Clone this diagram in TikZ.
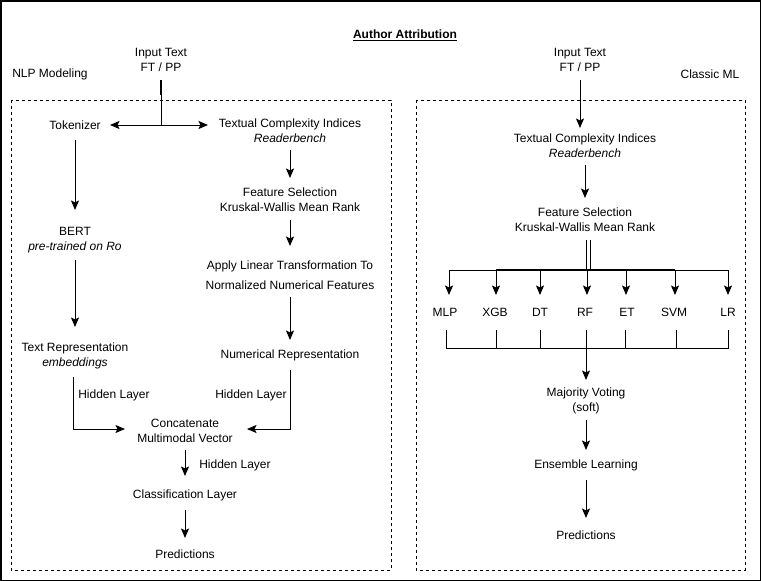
\documentclass[tikz,border=0pt]{standalone}
\usepackage{fontspec}
\setmainfont{Liberation Sans}
\usetikzlibrary{arrows.meta}
\begin{document}
\begin{tikzpicture}[x=1pt,y=-1pt,
  txt/.style={inner sep=0pt, align=center, font=\fontsize{12}{15}\selectfont},
  arr/.style={line width=0.9pt, -{Stealth[length=9.5pt,width=8pt,inset=2pt]}},
  wire/.style={line width=0.9pt},
  heavy/.style={line width=1.8pt},
  panel/.style={line width=0.8pt, dash pattern=on 3pt off 3pt}]
\useasboundingbox (0,0) rectangle (761,581);
\draw[line width=1.5pt] (0.75,0.75) rectangle (760.25,580.25);

% the two dashed panels
\draw[panel] (11,100) rectangle (391,570);
\draw[panel] (416,100) rectangle (745,570);

% title and panel captions
\node[txt, font=\bfseries\fontsize{12}{15}\selectfont] (title) at (405,35) {\underline{Author Attribution}};
\node[txt] (nlp) at (50,74) {NLP Modeling};
\node[txt] (cml) at (710,74) {Classic ML};

% ---------- NLP modeling ----------
\node[txt] (inL) at (161,59.5) {Input Text\\FT / PP};
\node[txt] (tok) at (75,125) {Tokenizer};
\node[txt] (tciL) at (290,130.5) {Textual Complexity Indices\\\textit{Readerbench}};
\node[txt] (fsL) at (290,200) {Feature Selection\\Kruskal-Wallis Mean Rank};
\node[txt] (lin) at (290,275) {Apply Linear Transformation To\\[5pt]Normalized Numerical Features};
\node[txt] (numrep) at (290,355) {Numerical Representation};
\node[txt] (bert) at (75,240.5) {BERT\\\textit{pre-trained on Ro}};
\node[txt] (textrep) at (75,355.5) {Text Representation\\\textit{embeddings}};
\node[txt] (hl1) at (114,395) {Hidden Layer};
\node[txt] (hl2) at (251,395) {Hidden Layer};
\node[txt] (concat) at (185,430.5) {Concatenate\\Multimodal Vector};
\node[txt] (hl3) at (235,465) {Hidden Layer};
\node[txt] (cls) at (185,495) {Classification Layer};
\node[txt] (predL) at (185,554) {Predictions};

\coordinate (jL) at (161,125);
\draw[wire] ([yshift=-20.5]inL.center) -- (jL);
\draw[heavy] ([yshift=-20.5]inL.center) -- ([yshift=-35.5]inL.center);
\draw[arr] (jL) -- ([xshift=35]tok.center);
\draw[arr] (jL) -- ([xshift=-82]tciL.center |- jL);
\draw[arr] ([yshift=-15]tok.center) -- ([yshift=30.5]bert.center);
\draw[arr] ([yshift=-19.5]bert.center) -- ([yshift=28.5]textrep.center);
\draw[arr] ([xshift=-2,yshift=-21.5]textrep.center) |- ([xshift=-60,yshift=1.5]concat.center);
\draw[arr] ([yshift=-19.5]tciL.center) -- ([yshift=22]fsL.center);
\draw[arr] ([yshift=-20]fsL.center) -- ([yshift=29]lin.center);
\draw[arr] ([yshift=-22]lin.center) -- ([yshift=15]numrep.center);
\draw[arr] ([yshift=-15]numrep.center) |- ([xshift=62,yshift=1.5]concat.center);
\draw[arr] ([yshift=-19.5]concat.center) -- ([yshift=19]cls.center);
\draw[arr] ([yshift=-15]cls.center) -- ([yshift=16]predL.center);

% ---------- Classic ML ----------
\node[txt] (inR) at (580,59.5) {Input Text\\FT / PP};
\node[txt] (tciR) at (585,145.5) {Textual Complexity Indices\\\textit{Readerbench}};
\node[txt] (fsR) at (585,220) {Feature Selection\\Kruskal-Wallis Mean Rank};
\node[txt] (mlp) at (445,312) {MLP};
\node[txt] (xgb) at (495,312) {XGB};
\node[txt] (dt) at (540,312) {DT};
\node[txt] (rf) at (585,312) {RF};
\node[txt] (et) at (627,312) {ET};
\node[txt] (svm) at (674,312) {SVM};
\node[txt] (lr) at (728,312) {LR};
\node[txt] (mv) at (586,400.5) {Majority Voting\\(soft)};
\node[txt] (ens) at (586,465) {Ensemble Learning};
\node[txt] (predR) at (586,535) {Predictions};

\draw[arr] ([yshift=-20.5]inR.center) -- ([xshift=-5,yshift=17.5]tciR.center);
\draw[arr] ([yshift=-19.5]tciR.center) -- ([yshift=22]fsR.center);

% fan-out to the classifiers
\coordinate (bus) at (587,270);
\draw[wire] ([xshift=1,yshift=-20]fsR.center) -- ++(0,30);
\draw[wire] ([xshift=5,yshift=-20]fsR.center) -- ++(0,30);
\draw[arr] (bus) -| ([xshift=4,yshift=17]mlp.center);
\draw[arr] (bus) -| ([xshift=1,yshift=17]xgb.center);
\draw[arr] (bus) -| ([yshift=17]dt.center);
\draw[arr] (bus) -| ([xshift=2,yshift=17]rf.center);
\draw[arr] (bus) -| ([xshift=-1,yshift=17]et.center);
\draw[arr] (bus) -| ([xshift=1,yshift=17]svm.center);
\draw[arr] (bus) -| ([yshift=17]lr.center);
\draw[heavy] ([xshift=1]xgb.center |- bus) -- ([xshift=1]svm.center |- bus);

% merge into majority voting
\coordinate (merge) at (586,348);
\draw[wire] ([xshift=1,yshift=-18]mlp.center) |- (merge);
\draw[wire] ([xshift=1,yshift=-18]xgb.center) -- ([xshift=1]xgb.center |- merge);
\draw[wire] ([yshift=-18]dt.center) -- (dt.center |- merge);
\draw[wire] ([xshift=1,yshift=-18]rf.center) -- (merge);
\draw[wire] ([xshift=-2,yshift=-18]et.center) -- ([xshift=-2]et.center |- merge);
\draw[wire] ([xshift=2,yshift=-18]svm.center) -- ([xshift=2]svm.center |- merge);
\draw[wire] ([yshift=-18]lr.center) |- (merge);
\draw[arr] (merge) -- ([yshift=20.5]mv.center);
\draw[arr] ([yshift=-19.5]mv.center) -- ([yshift=15]ens.center);
\draw[arr] ([yshift=-15]ens.center) -- ([yshift=17]predR.center);
\end{tikzpicture}
\end{document}
